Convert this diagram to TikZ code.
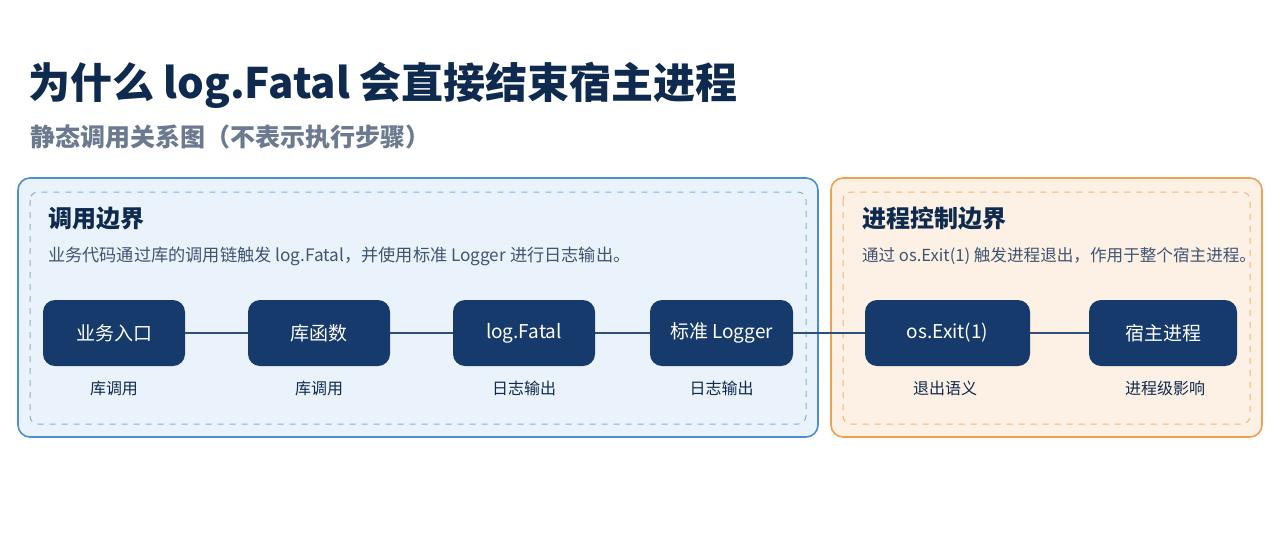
\documentclass[tikz,border=0pt]{standalone}
\usepackage{fontspec}
\setmainfont{Noto Sans CJK SC}
\usepackage{tikz}
\usetikzlibrary{positioning}
\definecolor{navy}{HTML}{163A6B}
\definecolor{titlec}{HTML}{0F2A4F}
\definecolor{subc}{HTML}{6B7A90}
\definecolor{blueb}{HTML}{4A90D0}
\definecolor{bluef}{HTML}{EAF3FC}
\definecolor{orgb}{HTML}{F0A050}
\definecolor{orgf}{HTML}{FDF0E4}
\definecolor{linec}{HTML}{2F4F78}
\tikzset{
  callbox/.style={rectangle,rounded corners=6pt,fill=navy,text=white,font=\fontsize{9.5}{11}\selectfont,minimum height=33pt,inner sep=0pt},
  note/.style={font=\fontsize{8}{10}\selectfont,text=titlec},
  link/.style={draw=linec,line width=0.6pt}
}
\begin{document}
\begin{tikzpicture}[x=0.5pt,y=-0.5pt]
  \useasboundingbox[fill=white] (0,0) rectangle (1280,547);
  % title
  \node[anchor=west,font=\fontsize{21}{24}\selectfont\bfseries,text=titlec] (title) at (21,85) {为什么 log.Fatal 会直接结束宿主进程};
  \node[anchor=west,font=\fontsize{12.5}{15}\selectfont\bfseries,text=subc] (sub) at (23,137) {静态调用关系图（不表示执行步骤）};
  % boundaries
  \draw[blueb,fill=bluef,line width=0.8pt,rounded corners=6pt] (18,178) rectangle (818,437);
  \draw[blueb!70,dashed,line width=0.5pt,rounded corners=4pt] (30,192) rectangle (806,424);
  \draw[orgb,fill=orgf,line width=0.8pt,rounded corners=6pt] (831,178) rectangle (1262,437);
  \draw[orgb!80,dashed,line width=0.5pt,rounded corners=4pt] (843,192) rectangle (1250,424);
  \node[anchor=west,font=\fontsize{12}{14}\selectfont\bfseries,text=titlec] (hcall) at (41,218) {调用边界};
  \node[anchor=west,font=\fontsize{8.6}{10}\selectfont,text=titlec!80] (dcall) at (41,256) {业务代码通过库的调用链触发 log.Fatal，并使用标准 Logger 进行日志输出。};
  \node[anchor=west,font=\fontsize{12}{14}\selectfont\bfseries,text=titlec] (hproc) at (855,218) {进程控制边界};
  \node[anchor=west,font=\fontsize{8.3}{10}\selectfont,text=titlec!80] (dproc) at (855,256) {通过 os.Exit(1) 触发进程退出，作用于整个宿主进程。};
  % call chain
  \node[callbox,minimum width=71pt] (biz) at (114,333) {业务入口};
  \node[callbox,minimum width=71pt] (lib) at (319,333) {库函数};
  \node[callbox,minimum width=71pt] (fatal) at (524,333) {log.Fatal};
  \node[callbox,minimum width=71.5pt] (logger) at (721.5,333) {标准 Logger};
  \node[callbox,minimum width=82.5pt] (exit) at (947.5,333) {os.Exit(1)};
  \node[callbox,minimum width=74pt] (host) at (1163,333) {宿主进程};
  \draw[link] (biz) -- (lib);
  \draw[link] (lib) -- (fatal);
  \draw[link] (fatal) -- (logger);
  \draw[link] (logger) -- (exit);
  \draw[link] (exit) -- (host);
  % notes
  \node[note] (nbiz) at (114,388) {库调用};
  \node[note] (nlib) at (319,388) {库调用};
  \node[note] (nfatal) at (524,388) {日志输出};
  \node[note] (nlogger) at (721.5,388) {日志输出};
  \node[note] (nexit) at (945,388) {退出语义};
  \node[note] (nhost) at (1165,388) {进程级影响};
\end{tikzpicture}
\end{document}
